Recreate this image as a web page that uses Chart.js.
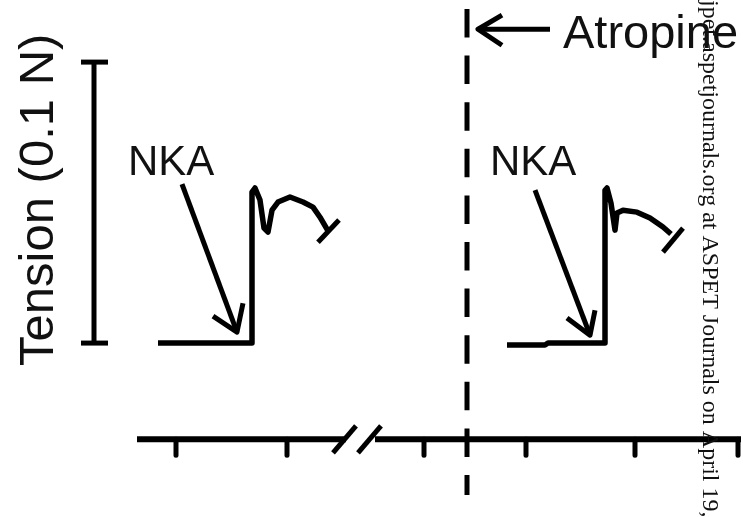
<!DOCTYPE html>
<html>
<head>
<meta charset="utf-8">
<script src="https://cdn.jsdelivr.net/npm/chart.js@4/dist/chart.umd.min.js"></script>
<style>
  html, body { margin: 0; padding: 0; background: #fff; }
  #wrap { width: 743px; height: 517px; }
</style>
</head>
<body>
<div id="wrap"><canvas id="chart" width="743" height="517"></canvas></div>
<script>
// time in s (x), tension in mN relative to baseline (y)
const TIME_RANGE = [0, 743];
const TENSION_RANGE = [-61.9, 122.1];

// NKA response before atropine
const beforeTime = [158, 235, 252, 252, 255, 260, 264, 268, 272, 278, 290, 303, 313, 320, 328];
const beforeTension = [0, 0, 0, 53.7, 55.2, 50.9, 40.9, 39.5, 47.3, 50.2, 52.0, 50.2, 48.4, 44.8, 39.9];
const beforeEndTime = [318, 339];
const beforeEndTension = [35.9, 43.8];

// NKA response after atropine
const afterTime = [507, 545, 548, 605, 605, 607, 611, 615, 617, 623, 637, 650, 663, 671];
const afterTension = [-0.7, -0.7, 0, 0, 54.4, 55.2, 49.8, 40.2, 46.3, 47.3, 46.6, 44.5, 41.3, 38.8];
const afterEndTime = [663, 683];
const afterEndTension = [32.4, 40.9];

// time axis (broken)
const axisTension = -34.2;
const tickEndTension = -39.9;
const axisLeftTime = [137, 346];
const axisRightTime = [375, 741];
const tickTimes = [176, 287, 424, 526, 635, 738];
const breakTimes = [[333, 356], [358, 381]];
const breakTension = [-39.1, -29.5];

// 0.1 N scale bar
const scaleBarTime = 94;
const scaleBarCap = [81, 108];
const scaleBarTension = [0, 100];

// atropine addition
const atropineTime = 467;
const atropineTension = [118.9, -54.1];
const atropineArrowTime = [502, 478, 502];
const atropineArrowTension = [116.7, 111.7, 106.0];
const atropineShaftTime = [478, 550];

// NKA arrows: shaft start, tip, wings
const nkaArrows = [
  { shaft: [[182, 56.6], [237, 3.9]], head: [[213, 9.6], [237, 3.9], [243, 14.2]] },
  { shaft: [[535, 54.4], [590, 2.8]], head: [[567, 8.9], [590, 2.8], [595, 11.7]] },
];

const pts = (xs, ys) => xs.map((x, i) => ({ x, y: ys[i] }));
const seg = (data, width, extra) => Object.assign({
  data, borderColor: '#000', borderWidth: width, pointRadius: 0, fill: false,
}, extra || {});

const datasets = [
  seg(pts(beforeTime, beforeTension), 5.5),
  seg(pts(beforeEndTime, beforeEndTension), 5),
  seg(pts(afterTime, afterTension), 5.5),
  seg(pts(afterEndTime, afterEndTension), 5),
  seg(pts(axisLeftTime, [axisTension, axisTension]), 6),
  seg(pts(axisRightTime, [axisTension, axisTension]), 6),
  ...tickTimes.map(t => seg(pts([t, t], [axisTension, tickEndTension]), 5)),
  ...breakTimes.map(b => seg(pts(b, breakTension), 5)),
  seg(pts([scaleBarTime, scaleBarTime], scaleBarTension), 5),
  ...scaleBarTension.map(v => seg(pts(scaleBarCap, [v, v]), 5)),
  seg(pts([atropineTime, atropineTime], atropineTension), 5, { borderDash: [28.5, 18.1] }),
  seg(pts(atropineShaftTime, [atropineArrowTension[1], atropineArrowTension[1]]), 5),
  seg(pts(atropineArrowTime, atropineArrowTension), 5),
  ...nkaArrows.flatMap(a => [
    seg(a.shaft.map(([x, y]) => ({ x, y })), 5),
    seg(a.head.map(([x, y]) => ({ x, y })), 5),
  ]),
];

const labels = [
  { text: 'Tension (0.1 N)', x: 53, y: 51.0, font: '49px "Liberation Sans", Arial, sans-serif', rot: -Math.PI / 2, align: 'center' },
  { text: 'NKA', x: 128, y: 59.8, font: '42px "Liberation Sans", Arial, sans-serif', rot: 0, align: 'left' },
  { text: 'NKA', x: 490, y: 59.8, font: '42px "Liberation Sans", Arial, sans-serif', rot: 0, align: 'left' },
  { text: 'Atropine', x: 563, y: 105.0, font: '47px "Liberation Sans", Arial, sans-serif', rot: 0, align: 'left' },
  { text: 'jpet.aspetjournals.org at ASPET Journals on April 19,', x: 703, y: 122.1, font: '24px "Liberation Serif", "Times New Roman", serif', rot: Math.PI / 2, align: 'left' },
];

const labelPlugin = {
  id: 'labels',
  afterDraw(chart) {
    const { ctx, scales: { x, y } } = chart;
    labels.forEach(l => {
      ctx.save();
      ctx.translate(x.getPixelForValue(l.x), y.getPixelForValue(l.y));
      ctx.rotate(l.rot);
      ctx.font = l.font;
      ctx.fillStyle = '#111';
      ctx.textAlign = l.align;
      ctx.textBaseline = 'alphabetic';
      ctx.fillText(l.text, 0, 0);
      ctx.restore();
    });
  },
};

new Chart(document.getElementById('chart'), {
  type: 'line',
  data: { datasets },
  options: {
    responsive: false,
    animation: false,
    layout: { padding: 0 },
    elements: { line: { tension: 0, borderJoinStyle: 'round', borderCapStyle: 'butt' } },
    plugins: { legend: { display: false }, tooltip: { enabled: false } },
    scales: {
      x: { type: 'linear', display: false, min: TIME_RANGE[0], max: TIME_RANGE[1] },
      y: { type: 'linear', display: false, min: TENSION_RANGE[0], max: TENSION_RANGE[1] },
    },
  },
  plugins: [labelPlugin],
});
</script>
</body>
</html>
